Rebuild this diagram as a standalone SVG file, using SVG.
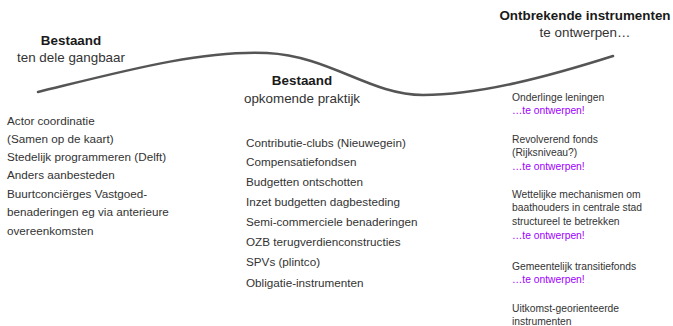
<svg xmlns="http://www.w3.org/2000/svg" width="673" height="326" viewBox="0 0 673 326">
<style>
text{font-family:"Liberation Sans",Arial,sans-serif;fill:#333}
.h{font-size:13.4px;font-weight:bold;fill:#1a1a1a;text-anchor:middle}
.s{font-size:13.4px;fill:#333;text-anchor:middle}
.l{font-size:11.7px}
.r{font-size:10.3px}
.p{fill:#9d00ff}
</style>
<rect width="673" height="326" fill="#fff"/>
<g id="connectors">
<path d="M38,92 C120,72 200,50 267,53 C330,56 370,95 423,95 C480,95 550,76 613,56" fill="none" stroke="#555" stroke-width="2.5" stroke-linecap="round"/>
</g>
<g id="node-bestaand-gangbaar">
<text class="h" x="71" y="45">Bestaand</text>
<text class="s" x="71" y="62">ten dele gangbaar</text>
<text class="l" x="7" y="125">Actor coordinatie</text>
<text class="l" x="7" y="143">(Samen op de kaart)</text>
<text class="l" x="7" y="161">Stedelijk programmeren (Delft)</text>
<text class="l" x="7" y="179">Anders aanbesteden</text>
<text class="l" x="7" y="198">Buurtconciërges Vastgoed-</text>
<text class="l" x="7" y="216">benaderingen eg via anterieure</text>
<text class="l" x="7" y="235">overeenkomsten</text>
</g>
<g id="node-bestaand-opkomend">
<text class="h" x="302" y="85">Bestaand</text>
<text class="s" x="302" y="103">opkomende praktijk</text>
<text class="l" x="246" y="147">Contributie-clubs (Nieuwegein)</text>
<text class="l" x="246" y="166">Compensatiefondsen</text>
<text class="l" x="246" y="186">Budgetten ontschotten</text>
<text class="l" x="246" y="206">Inzet budgetten dagbesteding</text>
<text class="l" x="246" y="226">Semi-commerciele benaderingen</text>
<text class="l" x="246" y="246">OZB terugverdienconstructies</text>
<text class="l" x="246" y="266">SPVs (plintco)</text>
<text class="l" x="246" y="287">Obligatie-instrumenten</text>
</g>
<g id="node-ontbrekend">
<text class="h" x="585" y="20">Ontbrekende instrumenten</text>
<text class="s" x="585" y="37">te ontwerpen…</text>
<text class="r" x="512" y="101">Onderlinge leningen</text>
<text class="r p" x="512" y="114">…te ontwerpen!</text>
<text class="r" x="512" y="143">Revolverend fonds</text>
<text class="r" x="512" y="156">(Rijksniveau?)</text>
<text class="r p" x="512" y="170">…te ontwerpen!</text>
<text class="r" x="512" y="198">Wettelijke mechanismen om</text>
<text class="r" x="512" y="211">baathouders in centrale stad</text>
<text class="r" x="512" y="225">structureel te betrekken</text>
<text class="r p" x="512" y="239">…te ontwerpen!</text>
<text class="r" x="512" y="270">Gemeentelijk transitiefonds</text>
<text class="r p" x="512" y="283">…te ontwerpen!</text>
<text class="r" x="512" y="312">Uitkomst-georienteerde</text>
<text class="r" x="512" y="325">instrumenten</text>
</g>
</svg>
